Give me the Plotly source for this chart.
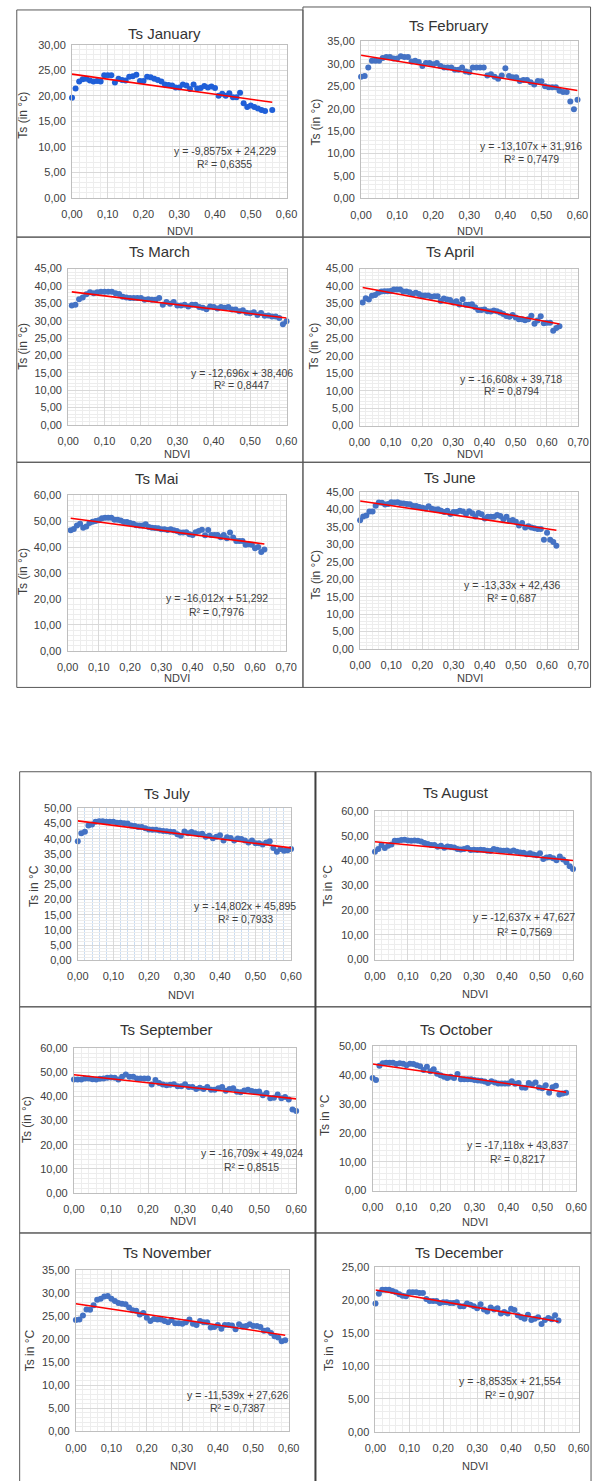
import plotly.graph_objects as go

W, H = 603, 1481

NDVI = [0.00, 0.01, 0.02, 0.03, 0.04, 0.05, 0.06, 0.07, 0.08, 0.09,
        0.10, 0.11, 0.12, 0.13, 0.14, 0.15, 0.16, 0.17, 0.18, 0.19,
        0.20, 0.21, 0.22, 0.23, 0.24, 0.25, 0.26, 0.27, 0.28, 0.29,
        0.30, 0.31, 0.32, 0.33, 0.34, 0.35, 0.36, 0.37, 0.38, 0.39,
        0.40, 0.41, 0.42, 0.43, 0.44, 0.45, 0.46, 0.47, 0.48, 0.49,
        0.50, 0.51, 0.52, 0.53, 0.54, 0.55, 0.56, 0.57, 0.58, 0.59,
        0.60, 0.61, 0.62, 0.63, 0.64]

ts_jan = [19.6, 21.4, 22.8, 23.2, 23.3, 23.0, 22.8, 22.9, 22.8, 24.0,
          24.0, 24.0, 22.6, 23.3, 23.1, 23.0, 23.7, 23.8, 24.1, 22.9,
          22.9, 23.7, 23.6, 23.3, 23.1, 22.8, 22.2, 22.1, 22.0, 21.6,
          21.6, 22.2, 22.0, 21.3, 22.2, 21.4, 21.5, 21.9, 21.6, 21.8,
          21.5, 20.0, 20.4, 20.0, 20.5, 19.7, 19.7, 20.6, 18.5, 17.8,
          18.1, 17.8, 17.5, 17.2, 17.0, 17.2]
ts_feb = [27.1, 27.3, 29.2, 30.7, 30.7, 30.7, 31.3, 31.5, 31.5, 31.2,
          31.2, 31.7, 31.5, 31.5, 30.5, 30.7, 30.4, 29.5, 30.2, 30.2,
          29.9, 30.2, 29.5, 29.2, 29.2, 29.2, 28.7, 28.7, 29.2, 28.3,
          28.1, 29.2, 29.2, 29.2, 29.2, 27.4, 27.7, 27.1, 26.7, 27.4,
          29.0, 27.3, 27.0, 27.0, 26.2, 26.4, 26.4, 25.9, 25.4, 26.2,
          26.1, 25.0, 24.8, 24.8, 24.8, 24.0, 23.7, 23.7, 21.6, 19.9,
          22.0]
ts_mar = [34.4, 34.6, 36.2, 36.7, 37.6, 38.2, 37.9, 38.2, 38.3, 38.3,
          38.3, 38.3, 37.9, 37.7, 36.9, 36.7, 36.5, 36.5, 36.5, 36.5,
          36.0, 36.2, 36.0, 36.0, 36.5, 34.6, 35.4, 34.9, 35.4, 34.4,
          34.4, 34.6, 34.1, 34.6, 34.6, 33.9, 33.7, 33.3, 34.1, 33.9,
          33.5, 33.9, 33.7, 33.9, 33.2, 33.2, 32.7, 33.0, 32.3, 32.1,
          32.4, 31.6, 32.2, 31.4, 31.5, 31.2, 31.2, 30.8, 29.0, 29.8]
ts_apr = [35.3, 36.5, 36.1, 37.2, 37.4, 38.1, 38.4, 38.5, 38.5, 38.6,
          39.0, 39.0, 39.0, 38.4, 38.4, 38.2, 37.7, 38.1, 37.7, 37.3,
          37.3, 37.3, 36.9, 37.1, 37.1, 35.7, 36.4, 36.1, 36.0, 35.3,
          35.6, 34.7, 36.2, 34.6, 34.6, 34.8, 33.9, 33.1, 33.1, 33.3,
          32.8, 32.7, 33.0, 32.8, 32.4, 32.0, 31.4, 31.2, 31.7, 31.0,
          30.5, 30.5, 30.2, 30.5, 31.5, 29.2, 30.1, 31.3, 29.3, 29.5,
          29.5, 27.2, 28.0, 28.5]
ts_mai = [46.5, 47.0, 48.3, 49.0, 47.5, 48.0, 49.3, 49.8, 50.1, 50.4,
          51.1, 51.3, 51.3, 51.3, 50.6, 50.6, 50.3, 49.7, 49.7, 49.3,
          49.0, 48.4, 48.3, 48.3, 48.8, 47.8, 47.5, 47.4, 47.3, 46.9,
          46.9, 46.6, 46.9, 46.5, 46.2, 45.6, 45.6, 45.7, 45.0, 44.7,
          45.7, 46.2, 46.7, 44.6, 46.6, 44.7, 44.7, 44.7, 43.8, 44.7,
          43.4, 45.6, 43.7, 42.4, 42.4, 42.4, 40.9, 41.1, 40.9, 39.6,
          40.0, 38.1, 39.1]
ts_jun = [36.9, 38.0, 38.3, 39.4, 39.4, 41.1, 42.0, 41.9, 41.4, 41.6,
          42.1, 42.0, 42.1, 41.8, 41.7, 41.6, 41.5, 41.0, 41.0, 40.7,
          40.5, 40.3, 40.9, 40.2, 40.0, 40.1, 39.6, 39.3, 39.6, 38.7,
          39.3, 39.3, 39.6, 39.4, 38.7, 39.5, 38.9, 38.0, 39.0, 38.6,
          37.4, 37.9, 37.9, 37.9, 38.4, 38.1, 37.2, 37.9, 36.8, 37.0,
          36.5, 35.4, 36.1, 34.8, 35.2, 34.8, 34.6, 34.4, 34.4, 31.3,
          33.3, 31.3, 30.7, 29.6]
ts_jul = [39.2, 41.8, 42.3, 44.4, 44.7, 45.6, 45.8, 45.8, 45.6, 45.6,
          45.6, 45.3, 45.3, 45.1, 45.0, 44.4, 44.2, 43.9, 43.9, 43.5,
          43.1, 43.0, 43.0, 42.7, 42.6, 42.5, 42.3, 42.2, 41.5, 41.0,
          42.4, 41.8, 42.2, 41.8, 41.5, 41.7, 40.7, 41.0, 40.2, 40.7,
          41.2, 39.4, 40.5, 40.3, 39.4, 40.1, 39.9, 39.4, 38.8, 39.4,
          38.5, 38.5, 38.1, 38.8, 39.2, 37.0, 35.7, 36.6, 36.1, 36.2,
          36.6]
ts_aug = [43.6, 44.7, 46.3, 45.1, 46.0, 46.5, 48.0, 48.0, 48.3, 48.4,
          48.1, 48.0, 48.1, 48.0, 47.7, 47.1, 46.7, 46.3, 46.3, 45.6,
          46.0, 45.2, 45.7, 45.5, 45.3, 44.7, 44.5, 44.7, 45.1, 44.3,
          44.4, 44.3, 44.4, 44.3, 44.0, 43.9, 44.7, 44.4, 44.1, 44.0,
          44.1, 43.7, 44.1, 43.6, 43.3, 43.2, 42.6, 43.0, 42.5, 42.2,
          43.0, 40.6, 41.2, 41.4, 40.9, 40.1, 41.7, 40.4, 39.3, 37.7,
          36.6]
ts_sep = [47.0, 47.0, 47.0, 47.4, 47.4, 47.1, 47.0, 47.3, 47.4, 47.8,
          47.9, 47.8, 47.0, 48.2, 49.1, 48.2, 48.2, 47.4, 47.4, 47.4,
          47.4, 45.0, 46.8, 45.6, 45.0, 44.6, 44.9, 45.1, 44.2, 44.2,
          45.1, 43.9, 43.9, 43.1, 43.6, 43.1, 43.9, 42.8, 42.8, 43.4,
          43.9, 42.4, 43.1, 43.4, 42.0, 41.7, 42.5, 42.8, 42.3, 42.0,
          42.1, 40.5, 41.4, 39.3, 39.5, 40.8, 39.3, 39.8, 38.7, 34.6,
          34.0]
ts_oct = [39.0, 38.3, 43.2, 44.1, 44.3, 44.3, 44.3, 43.8, 44.1, 43.9,
          43.4, 43.9, 43.8, 43.4, 43.1, 41.8, 42.9, 41.3, 42.0, 40.5,
          39.9, 39.4, 39.0, 39.4, 39.0, 40.4, 38.6, 38.6, 38.6, 38.6,
          38.3, 38.1, 38.0, 37.8, 37.3, 37.9, 37.4, 37.1, 37.1, 37.1,
          37.1, 37.9, 37.0, 37.3, 35.7, 35.6, 37.3, 36.7, 37.4, 35.7,
          35.4, 36.5, 33.9, 35.8, 36.3, 33.3, 33.6, 33.9]
ts_nov = [24.1, 24.2, 25.1, 26.4, 26.3, 27.3, 28.5, 28.7, 29.2, 29.3,
          28.7, 28.2, 27.8, 27.6, 27.5, 26.8, 26.2, 26.1, 25.3, 25.6,
          24.6, 23.9, 24.3, 24.2, 24.2, 23.9, 23.6, 24.1, 23.4, 23.4,
          23.3, 23.6, 24.2, 23.3, 23.0, 23.9, 23.6, 23.6, 22.5, 22.6,
          23.0, 22.2, 23.0, 23.0, 22.9, 22.1, 23.2, 22.7, 22.8, 23.2,
          22.8, 22.8, 22.6, 21.8, 21.9, 21.3, 20.6, 20.3, 19.5, 19.7]
ts_dec = [19.5, 21.0, 21.6, 21.6, 21.6, 21.4, 21.2, 20.9, 20.7, 20.6,
          21.2, 21.2, 21.2, 21.1, 21.1, 20.2, 19.9, 19.9, 19.9, 19.6,
          19.7, 19.7, 19.6, 19.6, 19.7, 19.1, 19.1, 19.5, 19.3, 19.1,
          18.8, 19.4, 18.6, 18.3, 18.9, 18.6, 18.8, 18.0, 18.2, 18.0,
          18.7, 18.5, 17.7, 17.4, 17.2, 17.8, 17.0, 17.2, 17.4, 16.4,
          17.0, 17.3, 17.1, 17.7, 16.9]

ndvi_jan = NDVI[0:55] + [NDVI[56]]
ndvi_feb = NDVI[0:61]
ndvi_mar = NDVI[1:61]
ndvi_apr = NDVI[1:65]
ndvi_mai = NDVI[1:64]
ndvi_jun = NDVI[0:64]
ndvi_jul = NDVI[0:61]
ndvi_aug = NDVI[0:61]
ndvi_sep = NDVI[0:61]
ndvi_oct = NDVI[0:58]
ndvi_nov = NDVI[0:60]
ndvi_dec = NDVI[0:55]

titles = ["Ts January", "Ts February", "Ts March", "Ts April", "Ts Mai", "Ts June",
          "Ts July", "Ts August", "Ts September", "Ts October", "Ts November", "Ts December"]
y_titles = ["Ts (in °c)", "Ts (in °c)", "Ts (in °c)", "Ts (in °c)", "Ts (in °c)", "Ts (in °C)",
            "Ts in °C", "Ts in °C", "Ts (in °c)", "Ts in °C", "Ts in °C", "Ts in °C"]
x_title = "NDVI"
slopes = [-9.8575, -13.107, -12.696, -16.608, -16.012, -13.33,
          -14.802, -12.637, -16.709, -17.118, -11.539, -8.8535]
intercepts = [24.229, 31.916, 38.406, 39.718, 51.292, 42.436,
              45.895, 47.627, 49.024, 43.837, 27.626, 21.554]
eq_texts = ["y = -9,8575x + 24,229", "y = -13,107x + 31,916", "y = -12,696x + 38,406",
            "y = -16,608x + 39,718", "y = -16,012x + 51,292", "y = -13,33x + 42,436",
            "y = -14,802x + 45,895", "y = -12,637x + 47,627", "y = -16,709x + 49,024",
            "y = -17,118x + 43,837", "y = -11,539x + 27,626", "y = -8,8535x + 21,554"]
r2_texts = ["R² = 0,6355", "R² = 0,7479", "R² = 0,8447", "R² = 0,8794", "R² = 0,7976", "R² = 0,687",
            "R² = 0,7933", "R² = 0,7569", "R² = 0,8515", "R² = 0,8217", "R² = 0,7387", "R² = 0,907"]
x_max = [0.6, 0.6, 0.6, 0.7, 0.7, 0.7, 0.6, 0.6, 0.6, 0.6, 0.6, 0.6]
y_max = [30, 35, 45, 45, 60, 45, 50, 60, 60, 50, 35, 25]
y_step = [5, 5, 5, 5, 10, 5, 5, 10, 10, 10, 5, 5]

xs = [ndvi_jan, ndvi_feb, ndvi_mar, ndvi_apr, ndvi_mai, ndvi_jun,
      ndvi_jul, ndvi_aug, ndvi_sep, ndvi_oct, ndvi_nov, ndvi_dec]
ys = [ts_jan, ts_feb, ts_mar, ts_apr, ts_mai, ts_jun,
      ts_jul, ts_aug, ts_sep, ts_oct, ts_nov, ts_dec]

# layout in pixels: plot area (x0, x1, ytop, ybot), title(x,y), ytitle(x,y), xtitle(x,y), eq(x, y1, y2)
panels = [
    ((63.3, 286, 39, 193.3), (159, 28), (13, 110), (175, 227), (222, 146, 159)),
    ((363.3, 588, 35.7, 194), (454.7, 20), (317, 117), (476, 227), (539.7, 140.7, 154)),
    ((59.3, 286, 264.7, 422.3), (154, 248), (13, 343), (172.7, 452), (239.7, 369.7, 382.3)),
    ((361.7, 588.7, 264.7, 423), (455.7, 248), (314.7, 343), (476.3, 451.3), (519.3, 375.7, 388.3)),
    ((58.7, 285.7, 493.3, 650), (150.7, 476.7), (13, 570), (172, 677.3), (213.3, 597.3, 610.7)),
    ((362.3, 588.7, 490, 648.3), (455.3, 475), (316.3, 573.3), (476.3, 677.3), (519.7, 584, 597.3)),
    ((69.3, 290.7, 809, 962), (161.7, 794), (23.3, 886.7), (176, 996.7), (243, 907.3, 920.7)),
    ((377.7, 583.3, 811.7, 961.3), (461.7, 792.7), (329, 886.7), (481.7, 996), (532.5, 918.3, 933.3)),
    ((65.3, 296, 1050.7, 1196.7), (161.7, 1032), (16.7, 1123), (178.3, 1224.7), (249.7, 1156.3, 1170.3)),
    ((375.3, 586.7, 1048.7, 1194.3), (462.3, 1032), (326, 1118), (481.7, 1226.3), (525.8, 1148, 1162)),
    ((67.3, 288.3, 1274, 1437), (161.7, 1256.7), (20, 1355), (178.3, 1471.7), (235.5, 1400, 1413.3)),
    ((378.3, 589.3, 1271.7, 1437.3), (465, 1256.7), (330, 1355), (481.7, 1471.7), (517.5, 1386.7, 1400)),
]

boxes = [
    (6, 303, 4, 233), (303, 601.5, 1, 233),
    (6, 303, 233, 460), (303, 601.5, 233, 460),
    (6, 303, 460, 687), (303, 601.5, 460, 687),
    (9, 316, 772, 1009), (316, 602, 772, 1009),
    (9, 316, 1009, 1237), (316, 602, 1009, 1237),
    (9, 316, 1237, 1490), (316, 602, 1237, 1490),
]

FONT = "Liberation Sans"
TXT = "#404040"

def px(x):
    return x / W

def py(y):
    return 1 - y / H

fig = go.Figure()
layout = dict(width=W, height=H, margin=dict(l=0, r=0, t=0, b=0),
              paper_bgcolor="white", plot_bgcolor="white", showlegend=False,
              separators=", ", font=dict(family=FONT, color=TXT))
annotations = []
shapes = []

for i in range(12):
    n = i + 1
    xa = "x" if n == 1 else f"x{n}"
    ya = "y" if n == 1 else f"y{n}"
    (x0, x1, yt, yb), tpos, ytpos, xtpos, eqpos = panels[i]
    mcol = "#1F5FD8" if i == 0 else "#4472C4"
    fig.add_trace(go.Scatter(x=xs[i], y=ys[i], mode="markers", xaxis=xa, yaxis=ya,
                             marker=dict(size=6, color=mcol), cliponaxis=False))
    xmin_d, xmax_d = min(xs[i]), max(xs[i])
    fig.add_trace(go.Scatter(x=[xmin_d, xmax_d],
                             y=[slopes[i] * xmin_d + intercepts[i], slopes[i] * xmax_d + intercepts[i]],
                             mode="lines", xaxis=xa, yaxis=ya, cliponaxis=False,
                             line=dict(color="#FF0000", width=1.6)))
    minor_x_col = "#C9DCF2" if i == 6 else "#EDEDED"
    layout["xaxis" if n == 1 else f"xaxis{n}"] = dict(
        domain=[px(x0), px(x1)], anchor=ya, range=[-0.00005, x_max[i] + 0.00005],
        tick0=0, dtick=0.1, tickformat=".2f", showgrid=True, gridcolor="#D9D9D9", gridwidth=1,
        minor=dict(dtick=0.02, showgrid=True, gridcolor=minor_x_col, ticks=""),
        showline=True, mirror=True, linecolor="#BFBFBF", linewidth=1, zeroline=False,
        ticks="outside", ticklen=6, tickcolor="rgba(0,0,0,0)",
        tickfont=dict(family=FONT, size=11, color=TXT), fixedrange=True)
    layout["yaxis" if n == 1 else f"yaxis{n}"] = dict(
        domain=[py(yb), py(yt)], anchor=xa, range=[-0.0001, y_max[i] + 0.0001],
        tick0=0, dtick=y_step[i], tickformat=".2f", showgrid=True, gridcolor="#D9D9D9", gridwidth=1,
        minor=dict(dtick=y_step[i] / 5, showgrid=True, gridcolor="#EDEDED", ticks=""),
        showline=True, mirror=True, linecolor="#BFBFBF", linewidth=1, zeroline=False,
        ticks="outside", ticklen=3, tickcolor="rgba(0,0,0,0)",
        tickfont=dict(family=FONT, size=11, color=TXT), fixedrange=True)
    annotations.append(dict(x=px(tpos[0]), y=py(tpos[1]), xref="paper", yref="paper",
                            text=titles[i], showarrow=False, xanchor="center", yanchor="middle",
                            font=dict(family=FONT, size=15, color="#333333")))
    annotations.append(dict(x=px(ytpos[0]), y=py(ytpos[1]), xref="paper", yref="paper",
                            text=y_titles[i], showarrow=False, textangle=-90,
                            xanchor="center", yanchor="middle",
                            font=dict(family=FONT, size=12, color=TXT)))
    annotations.append(dict(x=px(xtpos[0]), y=py(xtpos[1]), xref="paper", yref="paper",
                            text=x_title, showarrow=False, xanchor="center", yanchor="middle",
                            font=dict(family=FONT, size=11, color=TXT)))
    annotations.append(dict(x=px(eqpos[0]), y=py(eqpos[1]), xref="paper", yref="paper",
                            text=eq_texts[i], showarrow=False, xanchor="center", yanchor="middle",
                            font=dict(family=FONT, size=10.5, color=TXT)))
    annotations.append(dict(x=px(eqpos[0]), y=py(eqpos[2]), xref="paper", yref="paper",
                            text=r2_texts[i], showarrow=False, xanchor="center", yanchor="middle",
                            font=dict(family=FONT, size=10.5, color=TXT)))

for (bx0, bx1, by0, by1) in boxes:
    shapes.append(dict(type="rect", xref="paper", yref="paper",
                       x0=px(bx0), x1=px(bx1), y0=py(by1), y1=py(by0),
                       line=dict(color="#595959", width=1), fillcolor="rgba(0,0,0,0)", layer="above"))
# darker middle separator in the lower block
shapes.append(dict(type="line", xref="paper", yref="paper", x0=px(316), x1=px(316),
                   y0=py(1490), y1=py(772), line=dict(color="#404040", width=2)))

layout["annotations"] = annotations
layout["shapes"] = shapes
fig.update_layout(**layout)
fig.write_html("out.html",
               config={"displayModeBar": False, "staticPlot": True},
               post_script="document.body.style.margin='0';document.body.style.padding='0';"
                           "document.documentElement.style.overflow='hidden';")
